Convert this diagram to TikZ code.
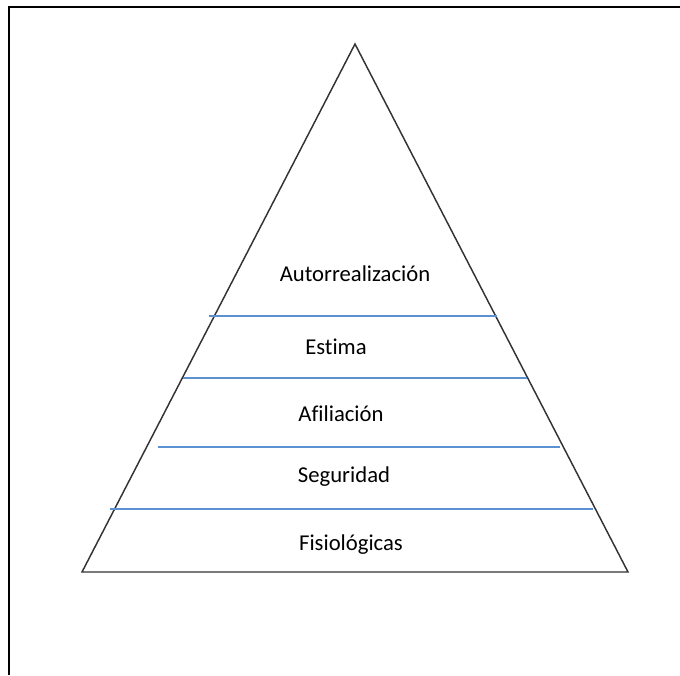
\documentclass[tikz,border=0pt]{standalone}
\usepackage{fontspec}
\setmainfont{Carlito}[Ligatures=NoCommon]
\definecolor{levelblue}{RGB}{91,145,210}

\begin{document}
\begin{tikzpicture}[x=0.75pt,y=-0.75pt]

        \useasboundingbox (0,0) rectangle (680,675);
        \draw[line width=1.7pt] (680,7) -- (9,7) -- (9,675);

        \coordinate (apex)  at (355,44);
        \coordinate (left)  at (82,572);
        \coordinate (right) at (628,572);
        \draw[black!80,line width=1.1pt] (apex) -- (right) -- (left) -- cycle;

        \coordinate (a1) at (209,316);
        \coordinate (b1) at (497,316);
        \coordinate (a2) at (183,378);
        \coordinate (b2) at (527,378);
        \coordinate (a3) at (158,447);
        \coordinate (b3) at (560,447);
        \coordinate (a4) at (110,509);
        \coordinate (b4) at (593,509);

        \begin{scope}[levelblue,line width=1pt]
          \draw (a1) -- (b1);
          \draw (a2) -- (b2);
          \draw (a3) -- (b3);
          \draw (a4) -- (b4);
        \end{scope}

        \begin{scope}[every node/.style={anchor=base,inner sep=0pt,font=\fontsize{17}{20}\selectfont}]
          \node (autor)  at (355,281) {Autorrealización};
          \node (estima) at (336,354) {Estima};
          \node (afil)   at (341,421) {Afiliación};
          \node (segur)  at (344,482) {Seguridad};
          \node (fisio)  at (351,550) {Fisiológicas};
        \end{scope}

      \end{tikzpicture}
\end{document}
